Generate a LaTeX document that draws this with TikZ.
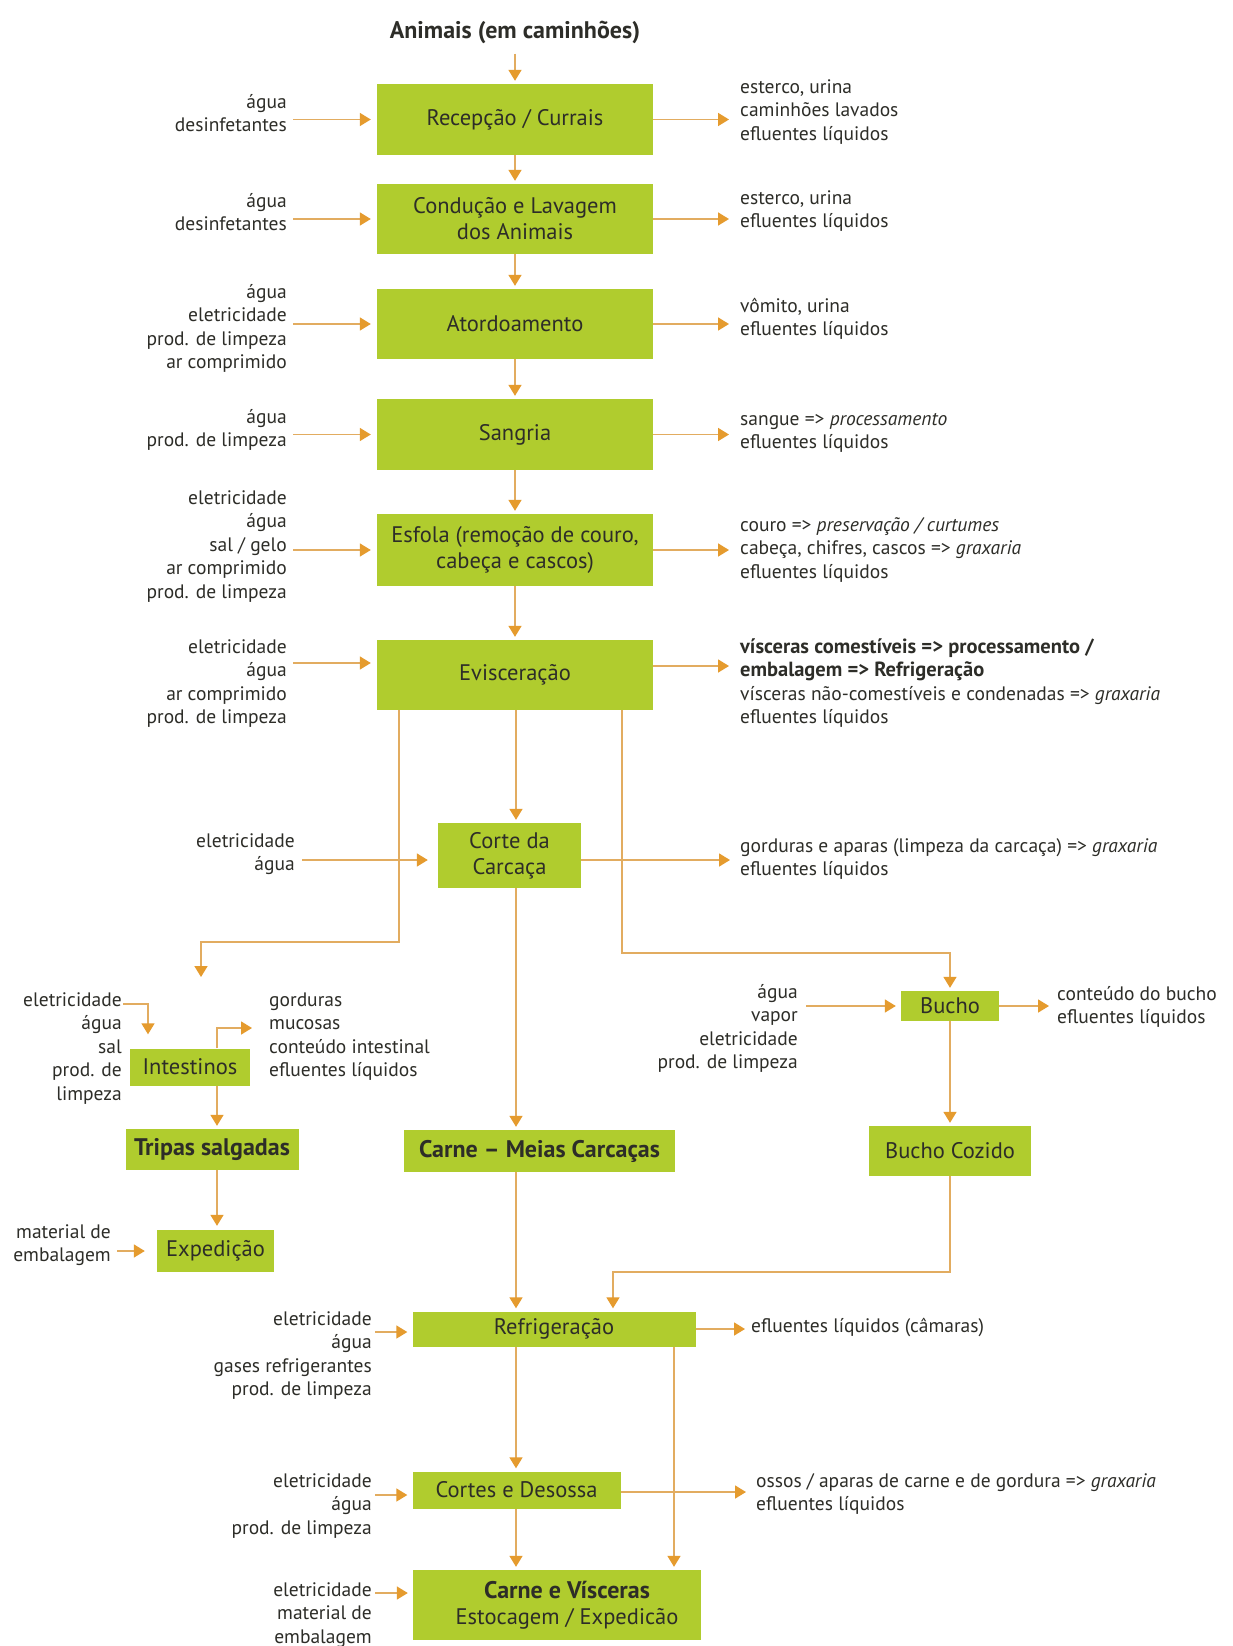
\documentclass[tikz,border=0pt]{standalone}
\usepackage{fontspec}
\setmainfont{PT Sans}
\usetikzlibrary{arrows.meta}
\definecolor{boxg}{RGB}{176,204,46}
\definecolor{lineo}{RGB}{226,172,96}
\definecolor{heado}{RGB}{229,155,46}
\definecolor{txt}{RGB}{45,45,40}
\newcommand\lblfont{\fontsize{19.5}{23.5}\selectfont}
\newcommand\boxfont{\fontsize{22.5}{26}\selectfont}
\newcommand\boxbold{\fontsize{24}{26}\selectfont\bfseries}
\tikzset{
  box/.style={fill=boxg, inner sep=0pt, align=center, font=\boxfont, text=txt},
  lblr/.style={inner sep=0pt, align=right, anchor=north east, font=\lblfont, text=txt},
  lbll/.style={inner sep=0pt, align=left, anchor=north west, font=\lblfont, text=txt},
  arr/.style={draw=lineo, line width=1.6pt, -{Triangle[length=11pt,width=13pt,color=heado]}},
}
\begin{document}
\begin{tikzpicture}[x=1pt,y=-1pt]
\fill[white] (0,0) rectangle (1232,1646);
\useasboundingbox (0,0) rectangle (1232,1646);

% title
\node[font=\fontsize{24}{26}\selectfont\bfseries, text=txt, inner sep=0pt] (title) at (515,32) {Animais (em caminhões)};

% boxes
\node[box, minimum width=276pt, minimum height=71pt] (rec) at (515,119.5) {Recepção / Currais};
\node[box, minimum width=276pt, minimum height=70pt] (cond) at (515,219) {Condução e Lavagem\\dos Animais};
\node[box, minimum width=276pt, minimum height=70pt] (ator) at (515,324) {Atordoamento};
\node[box, minimum width=276pt, minimum height=71pt] (sang) at (515,434.5) {Sangria};
\node[box, minimum width=276pt, minimum height=72pt] (esf) at (515,550) {Esfola (remoção de couro,\\cabeça e cascos)};
\node[box, minimum width=276pt, minimum height=70pt] (evis) at (515,675) {Evisceração};
\node[box, minimum width=143pt, minimum height=65pt] (corte) at (509.5,855.5) {Corte da\\Carcaça};
\node[box, minimum width=120pt, minimum height=37pt] (intest) at (190,1067) {Intestinos};
\node[box, minimum width=173pt, minimum height=41pt, font=\boxbold] (tripas) at (212,1149.5) {Tripas salgadas};
\node[box, minimum width=117pt, minimum height=42pt] (exped) at (215.5,1251) {Expedição};
\node[box, minimum width=271pt, minimum height=42pt, font=\boxbold] (meias) at (539.5,1151) {Carne – Meias Carcaças};
\node[box, minimum width=98pt, minimum height=30pt] (bucho) at (950,1006) {Bucho};
\node[box, minimum width=162pt, minimum height=50pt] (bcoz) at (950,1151) {Bucho Cozido};
\node[box, minimum width=283pt, minimum height=35pt] (refr) at (554,1329) {Refrigeração};
\node[box, minimum width=208pt, minimum height=37pt] (cortes) at (516.5,1490) {Cortes e Desossa};
\node[box, minimum width=288pt, minimum height=70pt] (cev) at (557,1605) {\hspace*{20pt}{\boxbold Carne e Vísceras}\\\hspace*{20pt}Estocagem / Expedicão};

% input labels
\node[lblr] (in1) at (287,91.5) {\strut água\\desinfetantes};
\node[lblr] (in2) at (287,190.5) {\strut água\\desinfetantes};
\node[lblr] (in3) at (287,281.5) {\strut água\\eletricidade\\prod. de limpeza\\ar comprimido};
\node[lblr] (in4) at (287,406.5) {\strut água\\prod. de limpeza};
\node[lblr] (in5) at (287,487.5) {\strut eletricidade\\água\\sal / gelo\\ar comprimido\\prod. de limpeza};
\node[lblr] (in6) at (287,636.5) {\strut eletricidade\\água\\ar comprimido\\prod. de limpeza};
\node[lblr] (in7) at (295,830.5) {\strut eletricidade\\água};
\node[lblr] (in8) at (122,989.5) {\strut eletricidade\\água\\sal\\prod. de\\limpeza};
\node[lblr] (in9) at (111,1221.5) {\strut material de\\embalagem};
\node[lblr] (in10) at (798,981.5) {\strut água\\vapor\\eletricidade\\prod. de limpeza};
\node[lblr] (in11) at (372,1308.5) {\strut eletricidade\\água\\gases refrigerantes\\prod. de limpeza};
\node[lblr] (in12) at (372,1470.5) {\strut eletricidade\\água\\prod. de limpeza};
\node[lblr] (in13) at (372,1579.5) {\strut eletricidade\\material de\\embalagem};

% output labels
\node[lbll] (out1) at (740,76.5) {\strut esterco, urina\\caminhões lavados\\efluentes líquidos};
\node[lbll] (out2) at (740,187.5) {\strut esterco, urina\\efluentes líquidos};
\node[lbll] (out3) at (740,295.5) {\strut vômito, urina\\efluentes líquidos};
\node[lbll] (out4) at (740,408.5) {\strut sangue => \textit{processamento}\\efluentes líquidos};
\node[lbll] (out5) at (740,514.5) {\strut couro => \textit{preservação / curtumes}\\cabeça, chifres, cascos => \textit{graxaria}\\efluentes líquidos};
\node[lbll] (out6) at (740,636.5) {\strut{\fontsize{20.5}{23.5}\selectfont\bfseries vísceras comestíveis => processamento /}\\{\fontsize{20.5}{23.5}\selectfont\bfseries embalagem => Refrigeração}\\vísceras não-comestíveis e condenadas => \textit{graxaria}\\efluentes líquidos};
\node[lbll] (out7) at (740,835.5) {\strut gorduras e aparas (limpeza da carcaça) => \textit{graxaria}\\efluentes líquidos};
\node[lbll] (out8) at (269,989.5) {\strut gorduras\\mucosas\\conteúdo intestinal\\efluentes líquidos};
\node[lbll] (out9) at (1057,983.5) {\strut conteúdo do bucho\\efluentes líquidos};
\node[lbll] (out10) at (751,1315.5) {\strut efluentes líquidos (câmaras)};
\node[lbll] (out11) at (756,1470.5) {\strut ossos / aparas de carne e de gordura => \textit{graxaria}\\efluentes líquidos};

% helper coordinates
\coordinate (mx) at (516,0);
\coordinate (rx) at (674,0);
\coordinate (lbx) at (399,0);
\coordinate (rbx) at (622,0);
\coordinate (bx2) at (613,0);
\coordinate (ix) at (217,0);
\coordinate (ie2) at (148,0);
\coordinate (brk) at (0,942);
\coordinate (brk2) at (0,953);
\coordinate (brk3) at (0,1272);
\coordinate (intarr) at (201,977);
\coordinate (io) at (252,1028);
\coordinate (ie) at (123,1004);

% main chain
\draw[arr, shorten <=10pt, shorten >=3pt] (title.south) -- (rec.north);
\draw[arr, shorten >=3pt] (rec.south) -- (cond.north);
\draw[arr, shorten >=3pt] (cond.south) -- (ator.north);
\draw[arr, shorten >=3pt] (ator.south) -- (sang.north);
\draw[arr, shorten >=3pt] (sang.south) -- (esf.north);
\draw[arr, shorten >=3pt] (esf.south) -- (evis.north);
\draw[arr, shorten >=3pt] (mx |- evis.south) -- (mx |- corte.north);
\draw[arr, shorten >=3pt] (mx |- corte.south) -- (mx |- meias.north);
\draw[arr, shorten >=3pt] (mx |- meias.south) -- (mx |- refr.north);
\draw[arr, shorten >=3pt] (mx |- refr.south) -- (mx |- cortes.north);
\draw[arr, shorten >=3pt] (mx |- cortes.south) -- (mx |- cev.north);
\draw[arr, shorten >=3pt] (rx |- refr.south) -- (rx |- cev.north);

% branches from Evisceracao
\draw[arr] (lbx |- evis.south) |- (intarr |- brk) -- (intarr);
\draw[arr, shorten >=3pt] (rbx |- evis.south) |- (bucho.north |- brk2) -- (bucho.north);
\draw[arr, shorten >=3pt] (bucho.south) -- (bcoz.north);
\draw[arr, shorten >=3pt] (bcoz.south) |- (bx2 |- brk3) -- (bx2 |- refr.north);

% intestinos branch
\draw[arr, shorten >=3pt] (ix |- intest.south) -- (ix |- tripas.north);
\draw[arr, shorten >=4pt] (ix |- tripas.south) -- (ix |- exped.north);
\draw[arr] (ix |- intest.north) |- (io);
\draw[arr, shorten >=14pt] (ie) -| (ie2 |- intest.north);
\draw[arr, shorten >=12pt] ([xshift=6pt]in9.east |- exped.west) -- (exped.west);

% inputs
\draw[arr, shorten >=6pt] ([xshift=6pt]in1.east |- rec.west) -- (rec.west);
\draw[arr, shorten >=6pt] ([xshift=6pt]in2.east |- cond.west) -- (cond.west);
\draw[arr, shorten >=6pt] ([xshift=6pt]in3.east |- ator.west) -- (ator.west);
\draw[arr, shorten >=6pt] ([xshift=6pt]in4.east |- sang.west) -- (sang.west);
\draw[arr, shorten >=6pt] ([xshift=6pt]in5.east |- esf.west) -- (esf.west);
\draw[arr, shorten >=6pt] ([xshift=6pt,yshift=12pt]in6.east |- evis.west) -- ([yshift=12pt]evis.west);
\draw[arr, shorten >=10pt] ([xshift=7pt,yshift=-4.5pt]in7.east |- corte.west) -- ([yshift=-4.5pt]corte.west);
\draw[arr, shorten >=5pt] ([xshift=8pt]in10.east |- bucho.west) -- (bucho.west);
\draw[arr, shorten >=5pt] ([xshift=3pt,yshift=-3pt]in11.east |- refr.west) -- ([yshift=-3pt]refr.west);
\draw[arr, shorten >=5pt] ([xshift=3pt,yshift=-5pt]in12.east |- cortes.west) -- ([yshift=-5pt]cortes.west);
\draw[arr, shorten >=5pt] ([xshift=3pt,yshift=12pt]in13.east |- cev.west) -- ([yshift=12pt]cev.west);

% outputs
\draw[arr] (rec.east) -- ([xshift=-11pt]out1.west |- rec.east);
\draw[arr] (cond.east) -- ([xshift=-11pt]out2.west |- cond.east);
\draw[arr] (ator.east) -- ([xshift=-11pt]out3.west |- ator.east);
\draw[arr] (sang.east) -- ([xshift=-11pt]out4.west |- sang.east);
\draw[arr] (esf.east) -- ([xshift=-11pt]out5.west |- esf.east);
\draw[arr] ([yshift=9pt]evis.east) -- ([xshift=-11pt,yshift=9pt]out6.west |- evis.east);
\draw[arr] ([yshift=-4.5pt]corte.east) -- ([xshift=-10pt,yshift=-4.5pt]out7.west |- corte.east);
\draw[arr] (bucho.east) -- ([xshift=-8pt]out9.west |- bucho.east);
\draw[arr] (refr.east) -- ([xshift=-6pt]out10.west |- refr.east);
\draw[arr] ([yshift=-2pt]cortes.east) -- ([xshift=-10pt,yshift=-2pt]out11.west |- cortes.east);
\end{tikzpicture}
\end{document}
